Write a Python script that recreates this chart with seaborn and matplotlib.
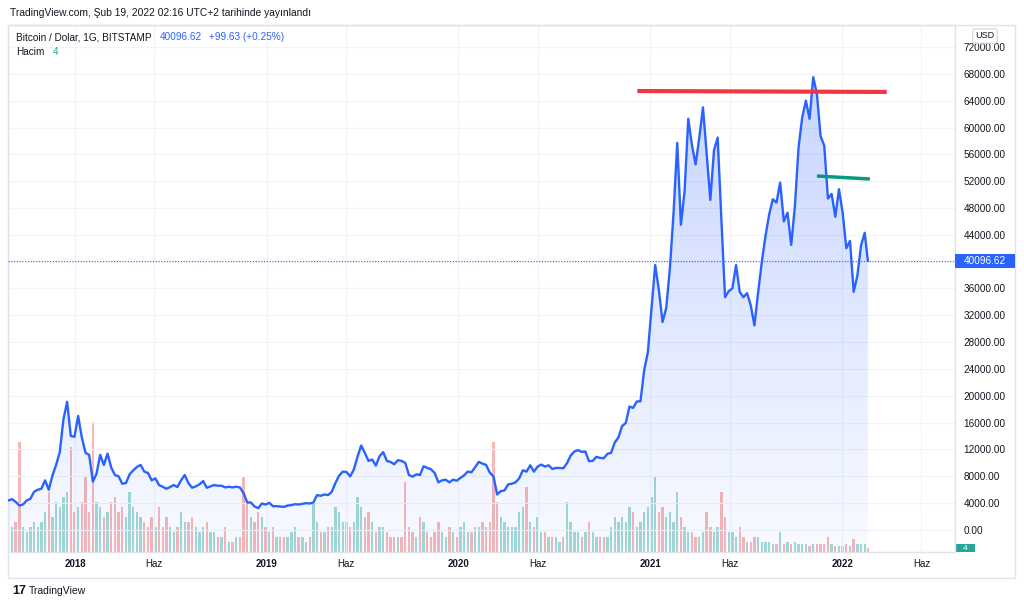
import numpy as np
import pandas as pd
import matplotlib
matplotlib.use("Agg")
import matplotlib.pyplot as plt
import matplotlib.dates as mdates
import matplotlib.transforms as mtransforms
from matplotlib.patches import Polygon, Rectangle
from matplotlib.colors import LinearSegmentedColormap
import seaborn as sns

# Haftalik kapanis (Pazar), BITSTAMP BTC/USD
fiyat_2017 = [4400, 4600, 4200, 3650, 3800, 4400, 4650, 5700, 6000, 6150,
              7400, 6000, 8100, 9700, 11600, 16500, 19100, 14000, 13900]
fiyat_2018 = [17000, 13800, 11500, 11200,
              7200, 8400, 11200, 9700,
              11400, 9300, 8200, 8000,
              6900, 7000, 8300, 8900, 9400,
              9700, 8700, 8500, 7400,
              7700, 6700, 6450, 6150,
              6400, 6700, 6400, 7400, 8200,
              7000, 6300, 6500, 6800,
              7300, 6300, 6500, 6700, 6600,
              6600, 6350, 6450, 6350,
              6450, 6350, 5500, 4100,
              4100, 3500, 3250, 3950, 3800]
fiyat_2019 = [4050, 3550, 3550, 3500,
              3450, 3650, 3700, 3850,
              3800, 3900, 4000, 3950, 4100,
              5200, 5100, 5300, 5200,
              5700, 7000, 8100, 8700,
              8650, 8000, 9000, 10900, 12600,
              11500, 10300, 10500, 9600,
              11000, 11600, 10300, 10150,
              9800, 10400, 10300, 10000, 8200,
              7950, 8300, 8200, 9500,
              9250, 9050, 8500, 7100,
              7400, 7500, 7100, 7500, 7350]
fiyat_2020 = [7750, 8150, 8700, 8600,
              9350, 10150, 9900, 9700,
              8550, 8000, 5300, 5800, 5900,
              6800, 6900, 7100, 7700,
              8900, 8700, 9650, 8700, 9450,
              9750, 9450, 9650, 9100,
              9250, 9250, 9200, 9950,
              11100, 11700, 11900, 11650, 11700,
              10250, 10300, 10900, 10750,
              10700, 11350, 11500, 13050,
              13800, 15500, 15950, 18400, 18200,
              19150, 19200, 23800, 26500]
fiyat_2021 = [33000, 39500, 35800, 31000, 33100,
              39000, 47300, 57700, 45500,
              50500, 61300, 57350, 54500,
              58500, 63000, 56000, 49200,
              56600, 58500, 46400, 34700, 35600,
              36000, 39500, 35500, 34700,
              35300, 33500, 30500, 35400,
              39900, 43800, 47000, 49300, 48800,
              51800, 46000, 47300, 42500,
              48200, 57000, 61500, 64000, 61300,
              67500, 65000, 58700, 57300,
              49400, 50100, 46700, 50800]
fiyat_2022 = [47300, 42000, 43100, 35500, 37900, 42400, 44300]
son_tarih = "2022-02-19"
son_fiyat = 40096.62

# Haftalik hacim (bin BTC, yaklasik)
hacim_2017 = [4, 5, 6, 22, 5, 4, 5, 6, 5, 6, 8, 12, 7, 10, 9, 11, 12, 21, 8]
hacim_2018 = [9, 10, 15, 8, 26, 10, 9, 7, 8, 10, 11, 8, 9, 7, 12, 9, 8,
              7, 6, 5, 7, 5, 9, 5, 7, 5, 4, 5, 8, 6, 6, 7, 5, 4,
              5, 6, 4, 4, 3, 3, 5, 2, 2, 3, 3, 15, 10, 7, 6, 8, 7, 5]
hacim_2019 = [4, 5, 3, 3, 3, 3, 4, 5, 3, 3, 2, 3, 10, 6, 4, 4, 5,
              5, 9, 8, 6, 6, 5, 6, 11, 9, 7, 8, 6, 4, 5, 5, 4, 3,
              3, 3, 3, 14, 5, 4, 3, 7, 6, 4, 3, 4, 6, 4, 3, 5, 4, 3]
hacim_2020 = [5, 6, 4, 4, 5, 5, 6, 5, 6, 22, 10, 7, 6, 5, 5, 5, 8,
              9, 13, 6, 5, 7, 4, 4, 3, 3, 3, 2, 3, 10, 6, 4, 4, 3, 4,
              6, 4, 3, 3, 3, 3, 5, 7, 6, 7, 6, 9, 8, 5, 6, 8, 9]
hacim_2021 = [11, 15, 8, 9, 7, 8, 6, 12, 7, 5, 4, 4, 3, 3, 4, 8, 5,
              4, 5, 12, 7, 4, 4, 3, 5, 3, 2, 2, 3, 3, 2, 2, 2, 1.5, 1.5,
              4, 1.5, 2, 1.5, 2, 1.5, 1.5, 1.5, 1.2, 1.5, 1.5, 1.5, 1.5,
              3, 1.5, 1.2, 1.2]
hacim_2022 = [1.2, 1.5, 1.2, 2.5, 1.5, 1.5, 1.5]
son_hacim = 0.8

# Cizilmis yatay cizgiler
kirmizi_tarih = ["2020-12-07", "2022-03-27"]
kirmizi_fiyat = [65440, 65300]
yesil_tarih = ["2021-11-14", "2022-02-23"]
yesil_fiyat = [52770, 52320]

tick_tarih = ["2018-01-01", "2018-06-01", "2019-01-01", "2019-06-01", "2020-01-01",
              "2020-06-01", "2021-01-01", "2021-06-01", "2022-01-01", "2022-06-01"]
tick_etiket = ["2018", "Haz", "2019", "Haz", "2020", "Haz", "2021", "Haz", "2022", "Haz"]

tarih = list(pd.date_range("2017-08-27", "2022-02-13", freq="W-SUN")) + [pd.Timestamp(son_tarih)]
fiyat = fiyat_2017 + fiyat_2018 + fiyat_2019 + fiyat_2020 + fiyat_2021 + fiyat_2022 + [son_fiyat]
hacim = hacim_2017 + hacim_2018 + hacim_2019 + hacim_2020 + hacim_2021 + hacim_2022 + [son_hacim]
df = pd.DataFrame({"tarih": tarih, "fiyat": fiyat, "hacim": hacim})
df["yon"] = np.where(df["fiyat"].diff().fillna(0) >= 0, "artis", "dusus")

sns.set_theme(style="white")
plt.rcParams["font.family"] = ["Liberation Sans", "DejaVu Sans"]

MAVI = "#2962ff"
YAZI = "#131722"
CIZGI = "#e0e3eb"

fig = plt.figure(figsize=(10.24, 6.07), dpi=100)
ax = fig.add_axes([8 / 1024, 55 / 607, 947 / 1024, 527 / 607])
ymin, ymax = -3280, 75280

# hacim (alt katman)
ax_vol = ax.twinx()
ax.set_zorder(ax_vol.get_zorder() + 1)
ax.patch.set_visible(False)
renk = df["yon"].map({"artis": "#26a69a", "dusus": "#ef5350"})
ax_vol.bar(df["tarih"], df["hacim"], width=4.5, color=renk, alpha=0.42, linewidth=0)
ax_vol.set_ylim(0, 105)
ax_vol.set_yticks([])
for s in ax_vol.spines.values():
    s.set_visible(False)

# fiyat cizgisi
sns.lineplot(data=df, x="tarih", y="fiyat", ax=ax, color=MAVI, linewidth=1.7, zorder=4)

# gradyan dolgu
xn = mdates.date2num(df["tarih"].values)
verts = np.column_stack([np.r_[xn[0], xn, xn[-1]], np.r_[ymin, df["fiyat"].values, ymin]])
poly = Polygon(verts, closed=True, facecolor="none", edgecolor="none")
ax.add_patch(poly)
cmap = LinearSegmentedColormap.from_list("g", [(0.161, 0.384, 1.0, 0.03), (0.161, 0.384, 1.0, 0.26)])
grad = np.linspace(0, 1, 256).reshape(-1, 1)
im = ax.imshow(grad, extent=[xn[0], xn[-1], ymin, max(fiyat)], origin="lower",
               aspect="auto", cmap=cmap, zorder=2)
im.set_clip_path(poly)

# son fiyat cizgisi
ax.axhline(son_fiyat, color=MAVI, lw=0.8, ls=(0, (1, 1.5)), zorder=3)

# trend cizgileri
ax.plot(pd.to_datetime(kirmizi_tarih), kirmizi_fiyat, color="#f23645", lw=3, zorder=5,
        solid_capstyle="butt")
ax.plot(pd.to_datetime(yesil_tarih), yesil_fiyat, color="#089981", lw=2.5, zorder=5,
        solid_capstyle="butt")

ax.set_xlim(pd.Timestamp("2018-01-01") - pd.Timedelta(days=127.6),
            pd.Timestamp("2022-01-01") + pd.Timedelta(days=215))
ax.set_ylim(ymin, ymax)
ax.set_xlabel("")
ax.set_ylabel("")

ax.yaxis.tick_right()
yt = np.arange(0, 72001, 4000)
ax.set_yticks(yt)
ax.set_yticklabels([f"{v:.2f}" for v in yt])
ax.tick_params(axis="y", length=0, pad=6, labelsize=7.2, labelcolor=YAZI)

ax.set_xticks(pd.to_datetime(tick_tarih))
ax.set_xticklabels(tick_etiket)
ax.tick_params(axis="x", length=0, pad=5, labelsize=7, labelcolor=YAZI)
for lab in ax.get_xticklabels():
    if lab.get_text() != "Haz":
        lab.set_fontweight("bold")

ax.grid(True, color="#f0f3fa", lw=0.8)
ax.set_axisbelow(True)
for s in ax.spines.values():
    s.set_color(CIZGI)
    s.set_linewidth(1)

# son fiyat etiketi
bt = mtransforms.blended_transform_factory(ax.transAxes, ax.transData)
ax.add_patch(Rectangle((1.0, son_fiyat - 1050), 60 / 947, 2100, transform=bt,
                       facecolor=MAVI, edgecolor="none", clip_on=False, zorder=6))
ax.text(1.0 + 30 / 947, son_fiyat, f"{son_fiyat:.2f}", transform=bt, ha="center",
        va="center", color="white", fontsize=7.2, zorder=7, clip_on=False)

# dis cerceve
fig.add_artist(Rectangle((8 / 1024, 29 / 607), 1007 / 1024, 553 / 607,
                         transform=fig.transFigure, fill=False, ec=CIZGI, lw=1))

# hacim etiketi (sag alt)
fig.add_artist(Rectangle((955 / 1024, 55 / 607), 20 / 1024, 8 / 607,
                         transform=fig.transFigure, fc="#26a69a", ec="none"))
fig.text(965 / 1024, 1 - 548 / 607, "4", color="white", fontsize=6, ha="center", va="center")

# USD kutusu
fig.text(985 / 1024, 1 - 36 / 607, "USD", ha="center", va="center", fontsize=6.5, color=YAZI,
         bbox=dict(boxstyle="round,pad=0.3", fc="white", ec="#d1d4dc", lw=0.8), zorder=10)

# basliklar
fig.text(10 / 1024, 1 - 13 / 607, "TradingView.com, Şub 19, 2022 02:16 UTC+2 tarihinde yayınlandı",
         fontsize=7.4, color=YAZI, va="center")
fig.text(16 / 1024, 1 - 37 / 607, "Bitcoin / Dolar, 1G, BITSTAMP", fontsize=7.2, color=YAZI, va="center")
fig.text(160 / 1024, 1 - 37 / 607, "40096.62", fontsize=7.2, color=MAVI, va="center")
fig.text(209 / 1024, 1 - 37 / 607, "+99.63 (+0.25%)", fontsize=7.2, color=MAVI, va="center")
fig.text(16 / 1024, 1 - 52 / 607, "Hacim", fontsize=7.2, color=YAZI, va="center")
fig.text(53 / 1024, 1 - 52 / 607, "4", fontsize=7.2, color="#26a69a", va="center")

# alt logo
fig.text(12 / 1024, 1 - 591 / 607, "17", fontsize=9, fontweight="heavy", color=YAZI, va="center")
fig.text(29 / 1024, 1 - 591 / 607, "TradingView", fontsize=7.5, color=YAZI, va="center")

fig.savefig("out.png", dpi=100)
